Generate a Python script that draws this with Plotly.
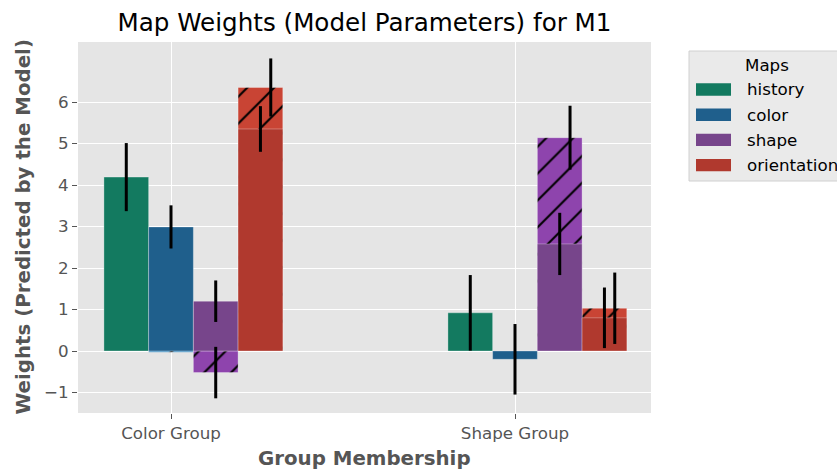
import plotly.graph_objects as go

# ---- data -------------------------------------------------------------
groups = ["Color Group", "Shape Group"]
maps = ["history", "color", "shape", "orientation"]

# solid bars: fitted map weights per group (index = map)
solid_color_group = [4.19, 2.99, 1.20, 5.35]
solid_shape_group = [0.92, -0.20, 2.58, 0.80]
solid_err_color_group = [0.82, 0.52, 0.50, 0.55]
solid_err_shape_group = [0.91, 0.85, 0.75, 0.73]

# hatched bars: second estimate of the same weights
hatched_color_group = [None, -0.03, -0.52, 6.35]
hatched_shape_group = [None, None, 5.14, 1.03]
hatched_err_color_group = [None, None, 0.62, 0.70]
hatched_err_shape_group = [None, None, 0.77, 0.86]

solid_colors = ["#137a60", "#1f5f8c", "#77458b", "#b0392e"]
hatched_colors = ["#16a085", "#2980b9", "#8e44ad", "#c94434"]

# ---- geometry -----------------------------------------------------------
W, H = 837, 469
L, R, T, B = 78, 651, 42, 413          # plot area in pixels
bar_w = 0.13
offsets = [-1, 0, 1, 2]
err_shift = 0.03

solid = [solid_color_group, solid_shape_group]
solid_err = [solid_err_color_group, solid_err_shape_group]
hatched = [hatched_color_group, hatched_shape_group]
hatched_err = [hatched_err_color_group, hatched_err_shape_group]

fig = go.Figure()

# hatched bars underneath
for i, m in enumerate(maps):
    xs = [g + offsets[i] * bar_w for g in range(len(groups))]
    fig.add_trace(go.Bar(
        x=xs, y=[hatched[g][i] for g in range(len(groups))], width=bar_w,
        marker=dict(color=hatched_colors[i],
                    line=dict(width=1, color="rgba(255,255,255,0.3)"),
                    pattern=dict(shape="/", fgcolor="black", fgopacity=1,
                                 size=19, solidity=0.11)),
        showlegend=False, hoverinfo="skip"))

# solid bars on top
for i, m in enumerate(maps):
    xs = [g + offsets[i] * bar_w for g in range(len(groups))]
    fig.add_trace(go.Bar(
        x=xs, y=[solid[g][i] for g in range(len(groups))], width=bar_w,
        marker=dict(color=solid_colors[i],
                    line=dict(width=1, color="rgba(255,255,255,0.3)")),
        name=m, showlegend=False))

# error bars
ex, ey, ee = [], [], []
for g in range(len(groups)):
    for i in range(len(maps)):
        xc = g + offsets[i] * bar_w
        ex.append(xc); ey.append(solid[g][i]); ee.append(solid_err[g][i])
        hv, he = hatched[g][i], hatched_err[g][i]
        if hv is not None and he is not None:
            shift = err_shift if hv > solid[g][i] else 0.0
            ex.append(xc + shift); ey.append(hv); ee.append(he)

fig.add_trace(go.Scatter(
    x=ex, y=ey, mode="markers",
    marker=dict(size=1, opacity=0),
    error_y=dict(type="data", array=ee, visible=True, color="black",
                 thickness=3, width=0),
    showlegend=False, hoverinfo="skip"))

# ---- axes -----------------------------------------------------------------
x0 = (L - 171) / 344
x1 = (R - 171) / 344
fig.update_xaxes(range=[x0, x1], tickvals=list(range(len(groups))),
                 ticktext=groups, showgrid=True, gridcolor="white",
                 gridwidth=1.2, zeroline=False, ticks="outside", ticklen=5,
                 tickcolor="#555555", tickfont=dict(size=16.7, color="#555555"),
                 showline=False)
fig.update_yaxes(range=[-1.494, 7.446], tickvals=list(range(-1, 7)),
                 showgrid=True, gridcolor="white", gridwidth=1.2,
                 zeroline=False, ticks="outside", ticklen=5,
                 tickcolor="#555555", tickfont=dict(size=16.7, color="#555555"),
                 showline=False)


def px_x(p):
    return (p - L) / (R - L)


def px_y(p):
    return (B - p) / (B - T)


annotations = [
    dict(text="<b>Weights (Predicted by the Model)</b>", x=px_x(23), y=0.5,
         xref="paper", yref="paper", textangle=-90, showarrow=False,
         xanchor="center", yanchor="middle",
         font=dict(size=19.8, color="#555555")),
    dict(text="<b>Group Membership</b>", x=0.5, y=px_y(458), xref="paper",
         yref="paper", showarrow=False, xanchor="center", yanchor="middle",
         font=dict(size=19.8, color="#555555")),
]

# legend panel
shapes = [dict(type="rect", xref="paper", yref="paper",
               x0=px_x(689), x1=px_x(845), y0=px_y(181), y1=px_y(51),
               fillcolor="#eaeaea", line=dict(color="#d0d0d0", width=1),
               layer="above")]
annotations.append(dict(text="Maps", x=px_x(767), y=px_y(65), xref="paper",
                        yref="paper", showarrow=False, xanchor="center",
                        yanchor="middle",
                        font=dict(size=16.7, color="black")))
for i, m in enumerate(maps):
    yc = 89.5 + 25.2 * i
    shapes.append(dict(type="rect", xref="paper", yref="paper",
                       x0=px_x(696), x1=px_x(731), y0=px_y(yc + 6.2),
                       y1=px_y(yc - 6.2), fillcolor=solid_colors[i],
                       line=dict(width=0), layer="above"))
    annotations.append(dict(text=m, x=px_x(745), y=px_y(yc), xref="paper",
                            yref="paper", showarrow=False, xanchor="left",
                            yanchor="middle",
                            font=dict(size=16.7, color="black")))

fig.update_layout(
    width=W, height=H, barmode="overlay",
    margin=dict(l=L, r=W - R, t=T, b=H - B),
    paper_bgcolor="white", plot_bgcolor="#e5e5e5",
    font=dict(family="DejaVu Sans"),
    title=dict(text="Map Weights (Model Parameters) for M1", x=0.5,
               xref="paper", y=1 - 22 / H, yref="container", yanchor="middle",
               font=dict(size=24.6, color="black")),
    annotations=annotations, shapes=shapes,
)

fig.write_html("out.html")
